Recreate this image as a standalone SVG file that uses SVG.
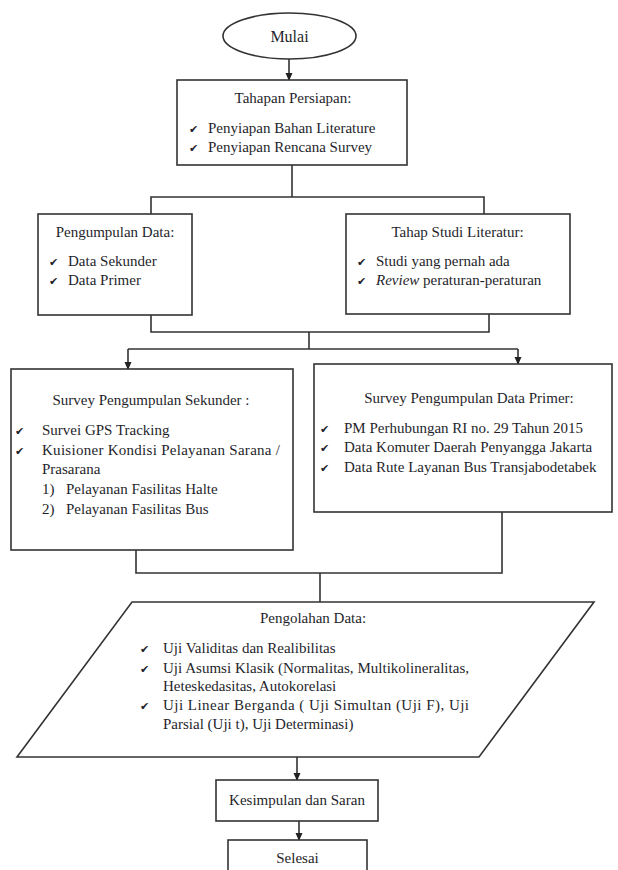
<svg xmlns="http://www.w3.org/2000/svg" width="618" height="870" viewBox="0 0 618 870">
<defs>
<marker id="ah" markerWidth="8" markerHeight="8" refX="7" refY="4" orient="auto" markerUnits="userSpaceOnUse">
<path d="M0,0.5 L8,4 L0,7.5 Z" fill="#222"/>
</marker>
<style>
.box{fill:#fff;stroke:#333;stroke-width:1.6}
.ln{fill:none;stroke:#333;stroke-width:1.6}
.t{font-family:"Liberation Serif","Times New Roman",serif;font-size:15px;fill:#1f1f2c}
.c{text-anchor:middle}
.ck{font-family:"DejaVu Sans",sans-serif;font-size:11px;fill:#1f1f2c}
</style>
</defs>
<rect width="618" height="870" fill="#fff"/>

<g id="connectors">
<line class="ln" x1="289" y1="59" x2="289" y2="80" marker-end="url(#ah)"/>
<polyline class="ln" points="292,165 292,197"/>
<polyline class="ln" points="151,214 151,197 484,197 484,214"/>
<polyline class="ln" points="151,315 151,332 489,332 489,314"/>
<polyline class="ln" points="309,332 309,349"/>
<polyline class="ln" points="128,349 518,349"/>
<line class="ln" x1="128" y1="349" x2="128" y2="369" marker-end="url(#ah)"/>
<line class="ln" x1="518" y1="349" x2="518" y2="364" marker-end="url(#ah)"/>
<polyline class="ln" points="136,550 136,573 502,573 502,512"/>
<polyline class="ln" points="320,573 320,602"/>
<line class="ln" x1="297" y1="757" x2="297" y2="780" marker-end="url(#ah)"/>
<line class="ln" x1="299" y1="821" x2="299" y2="840" marker-end="url(#ah)"/>
</g>

<g id="mulai">
<ellipse class="box" cx="289.5" cy="36" rx="66.5" ry="23"/>
<text class="t c" x="289.5" y="42" style="font-size:16px">Mulai</text>
</g>

<g id="tahapan-persiapan">
<rect class="box" x="177" y="80" width="230" height="85"/>
<text class="t c" x="293" y="103">Tahapan Persiapan:</text>
<text class="ck" x="189" y="133">✔</text>
<text class="t" x="208" y="133">Penyiapan Bahan Literature</text>
<text class="ck" x="189" y="152">✔</text>
<text class="t" x="208" y="152">Penyiapan Rencana Survey</text>
</g>

<g id="pengumpulan-data">
<rect class="box" x="38" y="214" width="154" height="101"/>
<text class="t c" x="115" y="237">Pengumpulan Data:</text>
<text class="ck" x="49" y="266">✔</text>
<text class="t" x="68" y="266">Data Sekunder</text>
<text class="ck" x="49" y="285">✔</text>
<text class="t" x="68" y="285">Data Primer</text>
</g>

<g id="tahap-studi-literatur">
<rect class="box" x="346" y="214" width="224" height="100"/>
<text class="t c" x="457.5" y="237">Tahap Studi Literatur:</text>
<text class="ck" x="357" y="266">✔</text>
<text class="t" x="376" y="266">Studi yang pernah ada</text>
<text class="ck" x="357" y="285">✔</text>
<text class="t" x="376" y="285"><tspan font-style="italic">Review</tspan> peraturan-peraturan</text>
</g>

<g id="survey-sekunder">
<rect class="box" x="11" y="369" width="282" height="181"/>
<text class="t c" x="151" y="405">Survey Pengumpulan Sekunder :</text>
<text class="ck" x="15" y="435">✔</text>
<text class="t" x="42" y="435">Survei GPS Tracking</text>
<text class="ck" x="15" y="455">✔</text>
<text class="t" x="42" y="455" textLength="238" lengthAdjust="spacing">Kuisioner Kondisi Pelayanan Sarana /</text>
<text class="t" x="42" y="474">Prasarana</text>
<text class="t" x="42" y="494">1)</text>
<text class="t" x="66" y="494">Pelayanan Fasilitas Halte</text>
<text class="t" x="42" y="514">2)</text>
<text class="t" x="66" y="514">Pelayanan Fasilitas Bus</text>
</g>

<g id="survey-primer">
<rect class="box" x="314" y="364" width="298" height="148"/>
<text class="t c" x="469" y="403">Survey Pengumpulan Data Primer:</text>
<text class="ck" x="320" y="433">✔</text>
<text class="t" x="344" y="433">PM Perhubungan RI no. 29 Tahun 2015</text>
<text class="ck" x="320" y="452">✔</text>
<text class="t" x="344" y="452">Data Komuter Daerah Penyangga Jakarta</text>
<text class="ck" x="320" y="472">✔</text>
<text class="t" x="344" y="472">Data Rute Layanan Bus Transjabodetabek</text>
</g>

<g id="pengolahan-data">
<polygon class="box" points="132,602 594,602 479,757 17,757"/>
<text class="t c" x="313" y="623">Pengolahan Data:</text>
<text class="ck" x="140" y="653">✔</text>
<text class="t" x="163" y="653">Uji Validitas dan Realibilitas</text>
<text class="ck" x="140" y="673">✔</text>
<text class="t" x="163" y="673" textLength="306" lengthAdjust="spacing">Uji Asumsi Klasik (Normalitas, Multikolineralitas,</text>
<text class="t" x="163" y="691">Heteskedasitas, Autokorelasi</text>
<text class="ck" x="140" y="710">✔</text>
<text class="t" x="163" y="710" textLength="306" lengthAdjust="spacing">Uji Linear Berganda ( Uji Simultan (Uji F), Uji</text>
<text class="t" x="163" y="729">Parsial (Uji t), Uji Determinasi)</text>
</g>

<g id="kesimpulan">
<rect class="box" x="216" y="780" width="162" height="41"/>
<text class="t c" x="297" y="805">Kesimpulan dan Saran</text>
</g>

<g id="selesai">
<rect class="box" x="228" y="840" width="139" height="40"/>
<text class="t c" x="297.5" y="863">Selesai</text>
</g>
</svg>
